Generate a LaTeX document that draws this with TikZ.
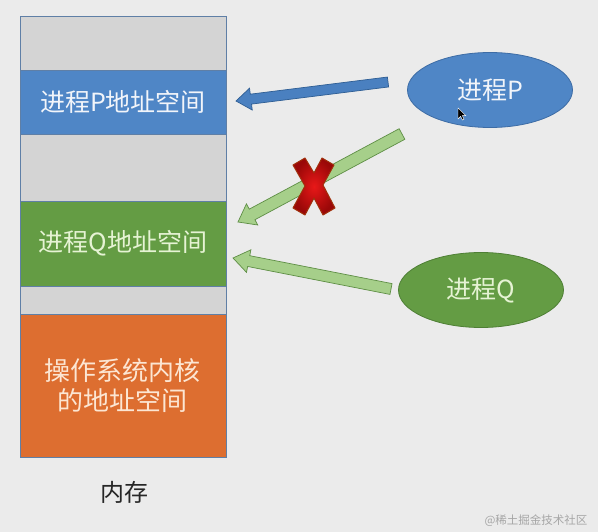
\documentclass[tikz,border=0pt]{standalone}
\usepackage{fontspec}
\newfontfamily\cjk{Noto Sans CJK SC}
\usetikzlibrary{calc,shapes.geometric}
\definecolor{bg}{HTML}{EBEBEB}
\definecolor{memgray}{HTML}{D4D4D4}
\definecolor{pblue}{HTML}{4F86C6}
\definecolor{qgreen}{HTML}{649C44}
\definecolor{kor}{HTML}{DD6E30}
\definecolor{frame}{HTML}{5F7FA6}
\definecolor{pbluedark}{HTML}{3D6CA5}
\definecolor{qgreendark}{HTML}{4E7F35}
\definecolor{arrblue}{HTML}{4A80C0}
\definecolor{arrbluedark}{HTML}{2F5E94}
\definecolor{arrgreen}{HTML}{A6CF8A}
\definecolor{arrgreendark}{HTML}{5E8E45}
\definecolor{ptext}{HTML}{F2F5FA}
\definecolor{qtext}{HTML}{E6F3D4}
\definecolor{ktext}{HTML}{FCE6D3}
\definecolor{xedge}{HTML}{A0300C}
\definecolor{xred}{HTML}{E81818}
\definecolor{xdark}{HTML}{9A0808}
\newcommand\blockarrow[6]{%
  \coordinate (#1h) at ($(#2)!#5!(#1)$);
  \path[#6] ($(#1)!#3!90:(#2)$) -- ($(#1h)!#3!-90:(#1)$) -- ($(#1h)!#4!-90:(#1)$)
    -- (#2) -- ($(#1h)!#4!90:(#1)$) -- ($(#1h)!#3!90:(#1)$) -- ($(#1)!#3!-90:(#2)$) -- cycle;}
\tikzset{
  seg/.style={draw=frame, line width=0.9pt, minimum width=206pt, inner sep=0pt, align=center,
    font=\cjk\fontsize{25}{30}\selectfont},
  proc/.style={ellipse, line width=0.8pt, minimum width=165pt, minimum height=75pt, inner sep=0pt,
    font=\cjk\fontsize{25}{30}\selectfont},
  barrow/.style={fill=arrblue, draw=arrbluedark, line width=0.7pt, line join=miter},
  garrow/.style={fill=arrgreen, draw=arrgreendark, line width=0.7pt, line join=miter},
}
\begin{document}
\begin{tikzpicture}[x=1pt,y=-1pt]
\fill[bg] (0,0) rectangle (598,532);
\useasboundingbox (0,0) rectangle (598,532);
% memory column
\node[seg, fill=memgray, minimum height=54pt] (g1) at (123,43) {};
\node[seg, fill=pblue, minimum height=64pt, text=ptext] (pb) at (123,102) {进程P地址空间};
\node[seg, fill=memgray, minimum height=67pt] (g2) at (123,167.5) {};
\node[seg, fill=qgreen, minimum height=85pt, text=qtext] (qb) at (123,243.5) {进程Q地址空间};
\node[seg, fill=memgray, minimum height=28pt] (g3) at (123,300) {};
\node[seg, fill=kor, minimum height=143pt, text=ktext, font=\cjk\fontsize{26}{30}\selectfont] (kb) at (123,385.5) {操作系统内核\\的地址空间};
\node[font=\cjk\fontsize{24}{28}\selectfont, text=black!85] (mem) at (124,492) {内存};
% processes
\node[proc, fill=pblue, draw=pbluedark, text=ptext] (ep) at (490,90) {进程P};
\node[proc, fill=qgreen, draw=qgreendark, text=qtext] (eq) at (481,290) {进程Q};
% arrows
\coordinate (a1t) at (388,82);
\coordinate (a1e) at (236,101);
\coordinate (a2t) at (402,134);
\coordinate (a2e) at (238,222);
\coordinate (a3t) at (391,289);
\coordinate (a3e) at (233,258);
\blockarrow{a1t}{a1e}{5pt}{11pt}{15pt}{barrow}
\blockarrow{a2t}{a2e}{6pt}{12pt}{16pt}{garrow}
\blockarrow{a3t}{a3e}{5.5pt}{11.5pt}{16pt}{garrow}
% red cross
\begin{scope}[shift={(314,186)}]
\path[draw=xedge, line width=1pt, line join=round, inner color=xred, outer color=xdark]
  (-21,-21) -- (-9,-28) -- (0,-13) -- (8,-28) -- (20,-21) -- (9,-1) -- (21,22) -- (9,29)
  -- (0,12) -- (-9,29) -- (-21,22) -- (-9,0) -- cycle;
\end{scope}
% mouse cursor
\begin{scope}[shift={(458,108)}]
\path[fill=black, draw=white, line width=0.4pt] (0,0) -- (0,11) -- (2.6,8.4) -- (4.4,12) -- (6,11.2) -- (4.3,7.6) -- (7.8,7.6) -- cycle;
\end{scope}
% watermark
\node[text=black!35, font=\cjk\fontsize{11.5}{13}\selectfont] (wm) at (536,521) {@稀土掘金技术社区};
\end{tikzpicture}
\end{document}
